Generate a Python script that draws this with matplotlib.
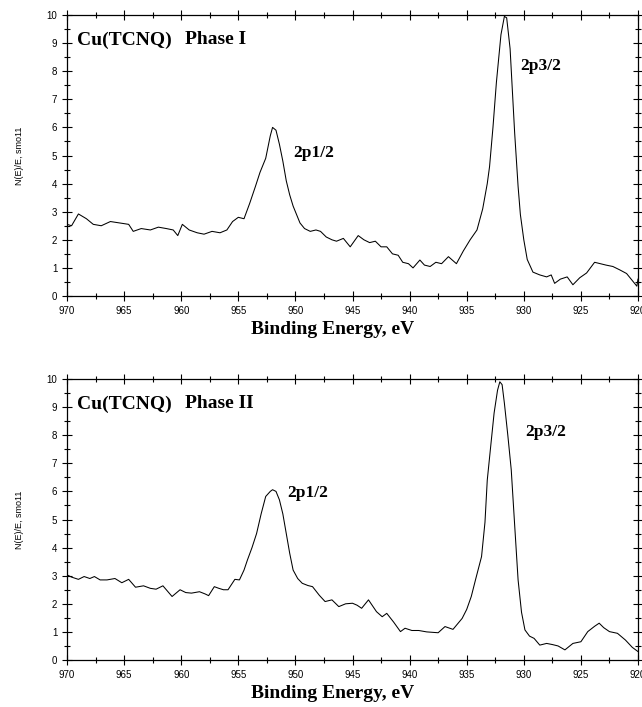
import matplotlib
matplotlib.use("Agg")
import matplotlib.pyplot as plt
from matplotlib.ticker import MultipleLocator

# Phase I spectrum (binding energy, eV  ->  N(E)/E)
be_1 = [970.0, 969.6, 969.0, 968.3, 967.7, 967.0, 966.2, 965.4, 964.6, 964.2,
        963.5, 962.7, 962.0, 961.3, 960.7, 960.3, 959.9, 959.3, 958.6, 958.0,
        957.3, 956.6, 956.0, 955.5, 955.0, 954.5, 954.0, 953.5, 953.1, 952.6,
        952.2, 952.0, 951.7, 951.4, 951.1, 950.8, 950.5, 950.2, 949.9, 949.6,
        949.2, 948.7, 948.2, 947.8, 947.3, 946.8, 946.4, 945.8, 945.2, 944.5,
        944.0, 943.5, 943.0, 942.5, 942.0, 941.5, 941.0, 940.6, 940.1, 939.7,
        939.1, 938.7, 938.2, 937.7, 937.2, 936.6, 935.9, 935.3, 934.7, 934.1,
        933.6, 933.2, 933.0, 932.7, 932.4, 932.0, 931.7, 931.5, 931.2, 930.8,
        930.5, 930.3, 930.0, 929.7, 929.2, 928.6, 928.0, 927.6, 927.3, 926.8,
        926.2, 925.7, 925.1, 924.5, 923.8, 923.3, 922.8, 922.2, 921.6, 921.0,
        920.5, 920.1, 920.0]
int_1 = [2.55, 2.5, 2.92, 2.75, 2.55, 2.5, 2.65, 2.6, 2.55, 2.3,
         2.4, 2.35, 2.45, 2.4, 2.35, 2.15, 2.55, 2.35, 2.25, 2.2,
         2.3, 2.25, 2.35, 2.65, 2.8, 2.75, 3.3, 3.9, 4.4, 4.9,
         5.7, 6.0, 5.9, 5.4, 4.8, 4.1, 3.6, 3.2, 2.9, 2.6,
         2.4, 2.3, 2.35, 2.3, 2.1, 2.0, 1.95, 2.05, 1.75, 2.15,
         2.0, 1.9, 1.95, 1.75, 1.75, 1.5, 1.45, 1.2, 1.15, 1.0,
         1.28, 1.1, 1.05, 1.2, 1.15, 1.4, 1.15, 1.6, 2.0, 2.35,
         3.1, 4.0, 4.6, 6.0, 7.6, 9.3, 9.95, 9.9, 8.8, 5.8,
         3.9, 2.9, 2.0, 1.3, 0.85, 0.75, 0.68, 0.75, 0.45, 0.6,
         0.68, 0.4, 0.65, 0.82, 1.2, 1.15, 1.1, 1.05, 0.93, 0.8,
         0.55, 0.35, 0.6]

# Phase II spectrum
be_2 = [970.0, 969.6, 969.0, 968.5, 968.0, 967.6, 967.1, 966.5, 965.8, 965.2,
        964.6, 964.0, 963.3, 962.7, 962.2, 961.6, 961.2, 960.8, 960.1, 959.6,
        959.1, 958.4, 957.9, 957.6, 957.1, 956.7, 956.3, 955.9, 955.3, 954.9,
        954.5, 954.2, 953.8, 953.4, 953.0, 952.6, 952.2, 952.0, 951.7, 951.4,
        951.1, 950.8, 950.5, 950.2, 949.8, 949.4, 948.9, 948.5, 947.9, 947.4,
        946.8, 946.2, 945.6, 945.0, 944.6, 944.2, 943.6, 942.9, 942.4, 942.0,
        941.4, 940.8, 940.4, 939.8, 939.2, 938.5, 937.5, 936.9, 936.2, 935.4,
        935.0, 934.6, 934.2, 933.7, 933.4, 933.2, 932.9, 932.6, 932.3, 932.1,
        931.9, 931.7, 931.4, 931.1, 930.8, 930.5, 930.2, 929.9, 929.5, 929.1,
        928.6, 928.0, 927.5, 927.0, 926.4, 925.7, 925.0, 924.4, 923.8, 923.4,
        923.0, 922.5, 921.8, 921.1, 920.5, 920.0]
int_2 = [3.03, 2.95, 2.87, 2.97, 2.9, 2.97, 2.85, 2.85, 2.9, 2.75,
         2.87, 2.59, 2.64, 2.55, 2.52, 2.64, 2.45, 2.26, 2.5, 2.4,
         2.38, 2.43, 2.35, 2.29, 2.61, 2.55, 2.5, 2.5, 2.87, 2.85,
         3.2, 3.56, 4.0, 4.5, 5.2, 5.82, 6.0, 6.06, 6.0, 5.7,
         5.2, 4.5, 3.8, 3.2, 2.9, 2.73, 2.65, 2.61, 2.3, 2.08,
         2.14, 1.9, 2.0, 2.02, 1.95, 1.84, 2.14, 1.72, 1.54, 1.66,
         1.35, 1.01, 1.13, 1.05, 1.05, 1.0, 0.97, 1.19, 1.09, 1.48,
         1.8, 2.26, 2.9, 3.68, 4.9, 6.4, 7.6, 8.79, 9.6, 9.9,
         9.8, 9.14, 8.0, 6.77, 4.8, 2.85, 1.7, 1.07, 0.85, 0.77,
         0.53, 0.59, 0.55, 0.5, 0.36, 0.59, 0.65, 1.01, 1.2, 1.31,
         1.15, 1.01, 0.95, 0.71, 0.45, 0.3]

xticks = [970, 965, 960, 955, 950, 945, 940, 935, 930, 925, 920]
yticks = list(range(0, 11))

serif = ["Liberation Serif", "DejaVu Serif"]
narrow = ["Liberation Sans Narrow", "Liberation Sans", "DejaVu Sans"]

W, H = 642, 707
fig = plt.figure(figsize=(W / 100, H / 100), dpi=100)


def to_fig(px, py):
    return px / W, 1 - py / H


# (x, y, phase, top px, bottom px, 2p1/2 pos, 2p3/2 pos, xlabel y)
panels = [
    (be_1, int_1, "Phase I", 15, 296, (293, 153), (520, 66), 329),
    (be_2, int_2, "Phase II", 379, 660, (287, 493), (525, 432), 694),
]

for be, val, phase, top, bot, lab1, lab3, xl_y in panels:
    ax = fig.add_axes([67 / W, 1 - bot / H, (638 - 67) / W, (bot - top) / H])
    ax.plot(be, val, color="black", lw=0.75)
    ax.set_xlim(970, 920)
    ax.set_ylim(0, 10)
    ax.set_xticks(xticks)
    ax.xaxis.set_minor_locator(MultipleLocator(2.5))
    ax.set_yticks(yticks)
    ax.yaxis.set_minor_locator(MultipleLocator(0.5))
    ax.tick_params(axis="both", which="both", direction="inout",
                   top=True, right=True, labelsize=7, width=0.8)
    ax.tick_params(axis="both", which="major", length=7)
    ax.tick_params(axis="both", which="minor", length=5)
    for lbl in ax.get_xticklabels() + ax.get_yticklabels():
        lbl.set_family(narrow)
    for sp in ax.spines.values():
        sp.set_linewidth(0.9)
    ax.set_ylabel("N(E)/E, smo11", fontsize=6.5, family=narrow, labelpad=16)

    fig.text(*to_fig(333, xl_y), "Binding Energy, eV", fontsize=14,
             fontweight="bold", family=serif, va="center", ha="center")
    fig.text(*to_fig(77, top + 25), "Cu(TCNQ)", fontsize=14, fontweight="bold",
             family=serif, va="center", ha="left")
    fig.text(*to_fig(185, top + 25), phase, fontsize=14, fontweight="bold",
             family=serif, va="center", ha="left")
    fig.text(*to_fig(*lab1), "2p1/2", fontsize=12.5, fontweight="bold",
             family=serif, va="center", ha="left")
    fig.text(*to_fig(*lab3), "2p3/2", fontsize=12.5, fontweight="bold",
             family=serif, va="center", ha="left")

fig.savefig("out.png", dpi=100)
